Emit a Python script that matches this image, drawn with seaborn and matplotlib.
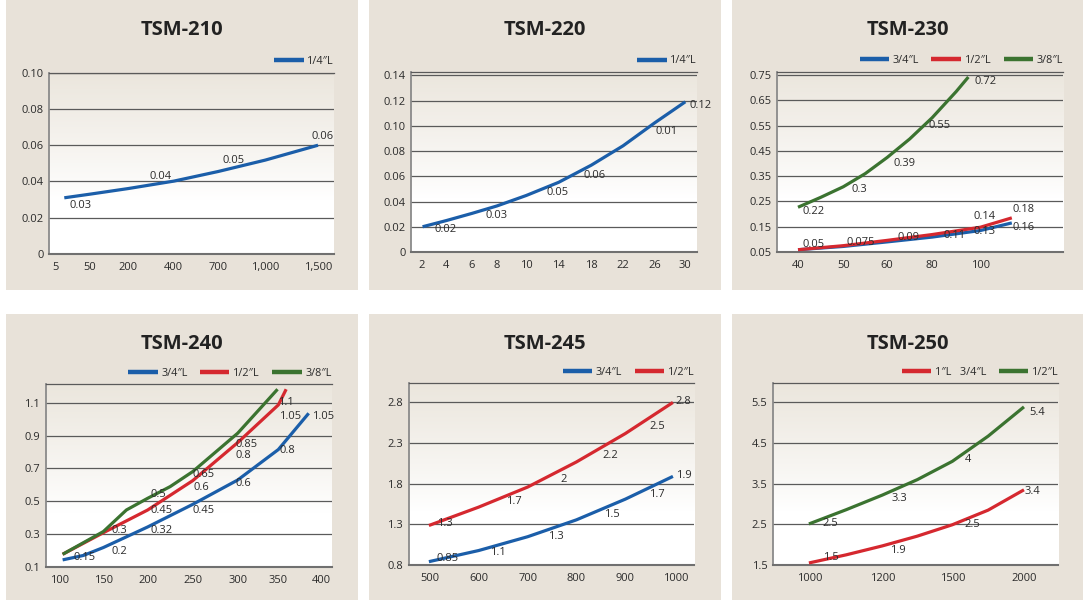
import numpy as np
import pandas as pd
import matplotlib
matplotlib.use('Agg')
import matplotlib.pyplot as plt
from matplotlib.patches import Rectangle
import seaborn as sns

sns.set_theme(style='white')
plt.rcParams['font.family'] = ['Open Sans', 'DejaVu Sans']

BLUE = '#1b5ea9'
RED = '#d5282f'
GREEN = '#3b7330'
PANEL_BG = '#e8e2d9'
TEXT = '#2b2b2b'

# ------------------------------------------------------------------ data
# TSM-210
tsm210_xticks = [5, 50, 200, 400, 700, 1000, 1500]
tsm210_xlabels = ['5', '50', '200', '400', '700', '1,000', '1,500']
tsm210_yticks = [0, 0.02, 0.04, 0.06, 0.08, 0.10]
tsm210_ylabels = ['0', '0.02', '0.04', '0.06', '0.08', '0.10']
tsm210_x = [16, 50, 200, 400, 700, 1000, 1500]
tsm210_q14 = [0.031, 0.0330, 0.0361, 0.0402, 0.0455, 0.0518, 0.060]
tsm210_notes = ['0.03', '0.04', '0.05', '0.06']
tsm210_note_x = [38, 343, 795, 1547]
tsm210_note_y = [0.0269, 0.043, 0.0516, 0.0648]

# TSM-220
tsm220_xticks = [2, 4, 6, 8, 10, 14, 18, 22, 26, 30]
tsm220_xlabels = [str(v) for v in tsm220_xticks]
tsm220_yticks = [0, 0.02, 0.04, 0.06, 0.08, 0.10, 0.12, 0.14]
tsm220_ylabels = ['0', '0.02', '0.04', '0.06', '0.08', '0.10', '0.12', '0.14']
tsm220_x = [2.1, 4, 6, 8, 10, 14, 18, 22, 26, 30]
tsm220_q14 = [0.020, 0.0249, 0.0306, 0.0365, 0.0448, 0.0552, 0.0688, 0.0841, 0.1023, 0.119]
tsm220_notes = ['0.02', '0.03', '0.05', '0.06', '0.01', '0.12']
tsm220_note_x = [3.92, 7.95, 13.88, 18.4, 27.5, 31.96]
tsm220_note_y = [0.0182, 0.0287, 0.0471, 0.0605, 0.0958, 0.116]

# TSM-230
tsm230_xticks = [40, 50, 60, 80, 100]
tsm230_xlabels = ['40', '50', '60', '80', '100']
tsm230_yticks = [0.05, 0.15, 0.25, 0.35, 0.45, 0.55, 0.65, 0.75]
tsm230_ylabels = ['0.05', '0.15', '0.25', '0.35', '0.45', '0.55', '0.65', '0.75']
tsm230_x_34 = [40, 50, 60, 80, 100, 113]
tsm230_q34 = [0.059, 0.072, 0.090, 0.109, 0.135, 0.165]
tsm230_x_12 = [40, 50, 60, 80, 100, 113]
tsm230_q12 = [0.059, 0.075, 0.096, 0.119, 0.148, 0.185]
tsm230_x_38 = [40, 45, 50, 55, 60, 70, 80, 90, 95]
tsm230_q38 = [0.227, 0.266, 0.308, 0.360, 0.424, 0.497, 0.581, 0.685, 0.742]
tsm230_notes = ['0.72', '0.55', '0.39', '0.3', '0.22', '0.18', '0.14', '0.16',
                '0.13', '0.11', '0.09', '0.075', '0.05']
tsm230_note_x = [102.1, 83.2, 67.9, 53.7, 43.5, 117.7, 101.8, 117.7, 101.8,
                 89.4, 69.3, 53.9, 43.5]
tsm230_note_y = [0.726, 0.551, 0.399, 0.297, 0.211, 0.218, 0.191, 0.145, 0.132,
                 0.115, 0.108, 0.088, 0.079]

# TSM-240
tsm240_xticks = [100, 150, 200, 250, 300, 350, 400]
tsm240_xlabels = [str(v) for v in tsm240_xticks]
tsm240_yticks = [0.1, 0.3, 0.5, 0.7, 0.9, 1.1]
tsm240_ylabels = ['0.1', '0.3', '0.5', '0.7', '0.9', '1.1']
tsm240_x_34 = [103, 127, 150, 200, 250, 300, 350, 385]
tsm240_q34 = [0.145, 0.172, 0.220, 0.345, 0.482, 0.630, 0.815, 1.035]
tsm240_x_12 = [103, 150, 200, 250, 300, 350, 359]
tsm240_q12 = [0.179, 0.310, 0.448, 0.626, 0.857, 1.086, 1.181]
tsm240_x_38 = [103, 150, 176, 200, 225, 250, 300, 325, 349]
tsm240_q38 = [0.179, 0.317, 0.448, 0.519, 0.590, 0.681, 0.914, 1.050, 1.181]
tsm240_notes = ['0.15', '0.2', '0.3', '0.32', '0.45', '0.5', '0.45', '0.6', '0.65',
                '0.6', '0.8', '0.85', '0.8', '1.1', '1.05', '1.05']
tsm240_note_x = [128, 168, 168, 215.6, 215.6, 211.9, 262.6, 259.3, 262.6,
                 307, 307, 311, 360.4, 358.8, 363.5, 401.9]
tsm240_note_y = [0.161, 0.195, 0.325, 0.325, 0.444, 0.543, 0.444, 0.586, 0.661,
                 0.606, 0.778, 0.843, 0.808, 1.1, 1.015, 1.015]

# TSM-245
tsm245_xticks = [500, 600, 700, 800, 900, 1000]
tsm245_xlabels = [str(v) for v in tsm245_xticks]
tsm245_yticks = [0.8, 1.3, 1.8, 2.3, 2.8]
tsm245_ylabels = ['0.8', '1.3', '1.8', '2.3', '2.8']
tsm245_x = [497, 600, 700, 800, 900, 994]
tsm245_q34 = [0.841, 0.978, 1.148, 1.355, 1.61, 1.89]
tsm245_q12 = [1.286, 1.512, 1.759, 2.067, 2.417, 2.8]
tsm245_notes = ['2.8', '2.5', '2.2', '2', '1.7', '1.3', '1.9', '1.7', '1.5', '1.3',
                '1.1', '0.85']
tsm245_note_x = [1015, 962.5, 869, 774, 671, 531, 1015, 962.5, 872, 757, 639.5, 536.6]
tsm245_note_y = [2.808, 2.5, 2.142, 1.853, 1.582, 1.306, 1.903, 1.664, 1.421, 1.154,
                 0.948, 0.874]

# TSM-250
tsm250_xticks = [1000, 1200, 1500, 2000]
tsm250_xlabels = ['1000', '1200', '1500', '2000']
tsm250_yticks = [1.5, 2.5, 3.5, 4.5, 5.5]
tsm250_ylabels = ['1.5', '2.5', '3.5', '4.5', '5.5']
tsm250_x = [997, 1100, 1200, 1350, 1500, 1750, 2000]
tsm250_q1 = [1.55, 1.75, 1.97, 2.21, 2.49, 2.85, 3.35]
tsm250_q12 = [2.51, 2.86, 3.22, 3.60, 4.05, 4.67, 5.39]
tsm250_notes = ['5.4', '4', '3.3', '2.5', '3.4', '2.5', '1.9', '1.5']
tsm250_note_x = [2093, 1611.6, 1274, 1055, 2058, 1639.5, 1268.6, 1057]
tsm250_note_y = [5.253, 4.1, 3.146, 2.512, 3.319, 2.496, 1.854, 1.673]

# ------------------------------------------------------------------ layout
W, H = 1083, 600
# tick positions as fractions of the axes width (uneven category spacing)
layout = {
    'TSM-210': dict(axes=(49, 72.7, 334, 254), box=(6, 0, 358, 290),
                    tickfrac=[0.0245, 0.1437, 0.278, 0.438, 0.5935, 0.759, 0.944]),
    'TSM-220': dict(axes=(411, 72, 697, 252), box=(369, 0, 721, 290),
                    tickfrac=[0.0361, 0.1235, 0.2133, 0.3007, 0.4033, 0.5163,
                              0.6305, 0.7413, 0.852, 0.9592]),
    'TSM-230': dict(axes=(776.7, 71.7, 1063, 252), box=(732, 0, 1083, 290),
                    tickfrac=[0.0744, 0.2326, 0.386, 0.543, 0.7116]),
    'TSM-240': dict(axes=(45.7, 384.3, 331.7, 567.3), box=(6, 314, 358, 600),
                    tickfrac=[0.0501, 0.2016, 0.3566, 0.514, 0.6713, 0.8135, 0.965]),
    'TSM-245': dict(axes=(408.7, 383.3, 694.3, 565), box=(369, 314, 721, 600),
                    tickfrac=[0.0758, 0.245, 0.4166, 0.587, 0.7585, 0.9358]),
    'TSM-250': dict(axes=(773, 383.3, 1058.3, 565), box=(732, 314, 1083, 600),
                    tickfrac=[0.1297, 0.3832, 0.6285, 0.8797]),
}

panels = [
    dict(title='TSM-210', xticks=tsm210_xticks, xlabels=tsm210_xlabels,
         yticks=tsm210_yticks, ylabels=tsm210_ylabels, ylim=(0, 0.10),
         series=[('1/4″L', tsm210_x, tsm210_q14, BLUE)],
         notes=(tsm210_notes, tsm210_note_x, tsm210_note_y)),
    dict(title='TSM-220', xticks=tsm220_xticks, xlabels=tsm220_xlabels,
         yticks=tsm220_yticks, ylabels=tsm220_ylabels, ylim=(0, 0.1426),
         series=[('1/4″L', tsm220_x, tsm220_q14, BLUE)],
         notes=(tsm220_notes, tsm220_note_x, tsm220_note_y)),
    dict(title='TSM-230', xticks=tsm230_xticks, xlabels=tsm230_xlabels,
         yticks=tsm230_yticks, ylabels=tsm230_ylabels, ylim=(0.05, 0.763),
         series=[('3/4″L', tsm230_x_34, tsm230_q34, BLUE),
                 ('1/2″L', tsm230_x_12, tsm230_q12, RED),
                 ('3/8″L', tsm230_x_38, tsm230_q38, GREEN)],
         notes=(tsm230_notes, tsm230_note_x, tsm230_note_y)),
    dict(title='TSM-240', xticks=tsm240_xticks, xlabels=tsm240_xlabels,
         yticks=tsm240_yticks, ylabels=tsm240_ylabels, ylim=(0.1, 1.211),
         series=[('3/4″L', tsm240_x_34, tsm240_q34, BLUE),
                 ('1/2″L', tsm240_x_12, tsm240_q12, RED),
                 ('3/8″L', tsm240_x_38, tsm240_q38, GREEN)],
         notes=(tsm240_notes, tsm240_note_x, tsm240_note_y)),
    dict(title='TSM-245', xticks=tsm245_xticks, xlabels=tsm245_xlabels,
         yticks=tsm245_yticks, ylabels=tsm245_ylabels, ylim=(0.8, 3.035),
         series=[('3/4″L', tsm245_x, tsm245_q34, BLUE),
                 ('1/2″L', tsm245_x, tsm245_q12, RED)],
         notes=(tsm245_notes, tsm245_note_x, tsm245_note_y)),
    dict(title='TSM-250', xticks=tsm250_xticks, xlabels=tsm250_xlabels,
         yticks=tsm250_yticks, ylabels=tsm250_ylabels, ylim=(1.5, 5.97),
         series=[('1″L   3/4″L', tsm250_x, tsm250_q1, RED),
                 ('1/2″L', tsm250_x, tsm250_q12, GREEN)],
         notes=(tsm250_notes, tsm250_note_x, tsm250_note_y)),
]


def piecewise(vals, pos):
    vals = np.asarray(vals, float)
    pos = np.asarray(pos, float)
    lo_s = (pos[1] - pos[0]) / (vals[1] - vals[0])
    hi_s = (pos[-1] - pos[-2]) / (vals[-1] - vals[-2])

    def fwd(x):
        x = np.asarray(x, float)
        out = np.interp(x, vals, pos)
        out = np.where(x < vals[0], pos[0] + (x - vals[0]) * lo_s, out)
        out = np.where(x > vals[-1], pos[-1] + (x - vals[-1]) * hi_s, out)
        return out

    def inv(p):
        p = np.asarray(p, float)
        out = np.interp(p, pos, vals)
        out = np.where(p < pos[0], vals[0] + (p - pos[0]) / lo_s, out)
        out = np.where(p > pos[-1], vals[-1] + (p - pos[-1]) / hi_s, out)
        return out

    return fwd, inv


def frect(l, t, r, b):
    return [l / W, 1 - b / H, (r - l) / W, (b - t) / H]


# vertical gradient: beige at top fading to white in lower third
n = 256
t = np.linspace(1, 0, n)  # top -> bottom
top_col = np.array([0.922, 0.902, 0.866])
mix = np.clip((t - 0.30) / 0.70, 0, 1) ** 0.9
grad = (1 - mix)[:, None] * np.ones(3)[None, :] + mix[:, None] * top_col[None, :]
grad = grad[:, None, :]

fig = plt.figure(figsize=(W / 100, H / 100), dpi=100)
fig.patch.set_facecolor('white')

for cfg in panels:
    lay = layout[cfg['title']]
    bx0, by0, bx1, by1 = lay['box']
    fig.patches.append(Rectangle((bx0 / W, 1 - by1 / H), (bx1 - bx0) / W, (by1 - by0) / H,
                                 transform=fig.transFigure, facecolor=PANEL_BG,
                                 edgecolor='none', zorder=-10))
    fig.text(((bx0 + bx1) / 2) / W, 1 - (by0 + 30) / H, cfg['title'],
             ha='center', va='center', fontsize=14.5, fontweight='bold', color='#222222')

    rect = frect(*lay['axes'])
    bg = fig.add_axes(rect, zorder=0)
    bg.imshow(grad, extent=(0, 1, 0, 1), aspect='auto', interpolation='bilinear')
    bg.set_xlim(0, 1)
    bg.set_ylim(0, 1)
    bg.axis('off')

    ax = fig.add_axes(rect, zorder=1)
    ax.set_facecolor('none')

    frames = []
    for name, xs, ys, col in cfg['series']:
        frames.append(pd.DataFrame({'x': xs, 'y': ys, 'series': name}))
    df = pd.concat(frames, ignore_index=True)
    names = [s[0] for s in cfg['series']]
    pal = {s[0]: s[3] for s in cfg['series']}
    sns.lineplot(data=df, x='x', y='y', hue='series', hue_order=names, palette=pal,
                 estimator=None, sort=False, linewidth=2.3, ax=ax,
                 solid_capstyle='butt', solid_joinstyle='round', zorder=3)

    fwd, inv = piecewise(cfg['xticks'], lay['tickfrac'])
    ax.set_xscale('function', functions=(fwd, inv))
    ax.set_xlim(float(inv(0.0)), float(inv(1.0)))
    ax.set_ylim(*cfg['ylim'])
    ax.set_xticks(cfg['xticks'])
    ax.set_xticklabels(cfg['xlabels'])
    ax.set_yticks(cfg['yticks'])
    ax.set_yticklabels(cfg['ylabels'])
    ax.xaxis.set_minor_locator(matplotlib.ticker.NullLocator())
    ax.tick_params(axis='both', length=0, labelsize=8, labelcolor=TEXT)
    ax.tick_params(axis='x', pad=5.5)
    ax.tick_params(axis='y', pad=4)
    ax.set_xlabel('')
    ax.set_ylabel('')
    ax.yaxis.grid(True, color='#5a5a5a', linewidth=0.9)
    ax.xaxis.grid(False)
    ax.set_axisbelow(True)
    ax.spines['right'].set_visible(False)
    ax.spines['top'].set_color('#5a5a5a')
    ax.spines['top'].set_linewidth(0.9)
    ax.spines['left'].set_color('#8a8a8a')
    ax.spines['left'].set_linewidth(1.3)
    ax.spines['bottom'].set_color('#707070')
    ax.spines['bottom'].set_linewidth(1.5)

    texts, nx, ny = cfg['notes']
    for s, x, y in zip(texts, nx, ny):
        ax.text(x, y, s, ha='center', va='center', fontsize=8, color=TEXT, zorder=4)

    old = ax.get_legend()
    handles = list(old.legend_handles)
    labels = [tx.get_text() for tx in old.get_texts()]
    old.remove()
    ah = lay['axes'][3] - lay['axes'][1]
    leg = ax.legend(handles, labels, loc='lower right', bbox_to_anchor=(1.0, 1.0 + 5.5 / ah),
                    ncol=len(handles), frameon=False, fontsize=7.8, handlelength=2.7,
                    handletextpad=0.35, columnspacing=1.15, borderpad=0, borderaxespad=0)
    for ln in leg.get_lines():
        ln.set_linewidth(3.2)
        ln.set_solid_capstyle('butt')
    for tx in leg.get_texts():
        tx.set_color(TEXT)

fig.savefig('out.png', dpi=100, facecolor='white')
